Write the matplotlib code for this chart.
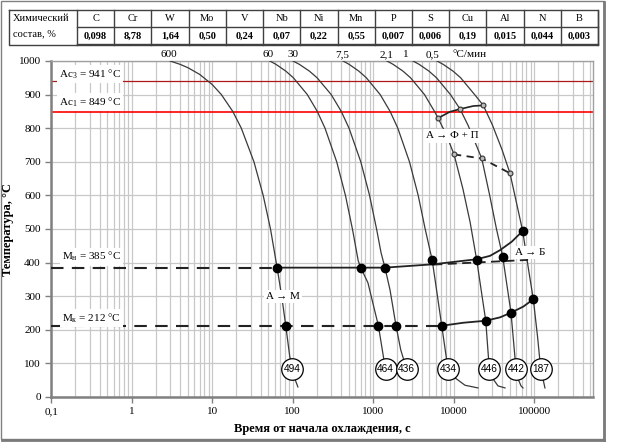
import numpy as np
import matplotlib.pyplot as plt
from matplotlib.patches import Rectangle

plt.rcParams['font.family'] = ['Liberation Serif', 'DejaVu Serif']
plt.rcParams['mathtext.fontset'] = 'custom'
plt.rcParams['mathtext.rm'] = 'Liberation Serif'

# =========================
# Данные
# =========================
elements = ['C', 'Cr', 'W', 'Mo', 'V', 'Nb', 'Ni', 'Mn', 'P', 'S', 'Cu', 'Al', 'N', 'B']
content = ['0,098', '8,78', '1,64', '0,50', '0,24', '0,07', '0,22', '0,55',
           '0,007', '0,006', '0,19', '0,015', '0,044', '0,003']

Ac3, Ac1, Ms, Mf = 941, 849, 385, 212

# кривые охлаждения: время, с / температура, °C
t600 = [3.0, 4, 5, 7, 10, 13, 18, 23, 33, 43, 53, 64, 73, 82, 92, 106, 116]
T600 = [1000, 990, 980, 960, 930, 900, 850, 800, 700, 600, 500, 385, 300, 212, 120, 55, 30]
t60 = [52, 62, 82, 102, 152, 202, 252, 352, 452, 552, 652, 700, 860, 1160, 1360, 1430]
T60 = [1000, 990, 970, 950, 900, 850, 800, 700, 600, 500, 405, 385, 340, 212, 110, 83]
t30 = [101, 121, 161, 201, 301, 401, 501, 701, 901, 1101, 1250, 1400, 1620, 1920, 2200, 2600]
T30 = [1000, 990, 970, 950, 900, 850, 800, 700, 600, 500, 430, 385, 318, 212, 140, 83]
t75 = [422, 502, 662, 822, 1222, 1622, 2022, 2822, 3622, 4422, 5400, 6200, 7100, 8500,
       10400, 13800, 20000]
T75 = [1000, 990, 970, 950, 900, 850, 800, 700, 600, 500, 408, 310, 212, 83, 57, 35, 27]
t21 = [1483, 1769, 2340, 2912, 4340, 5769, 6400, 8000, 10100, 13000, 16000, 19300, 25000,
       27700, 30800, 35500, 43400]
T21 = [1000, 990, 970, 950, 900, 850, 830, 783, 722, 620, 520, 408, 227, 83, 54, 33, 27]
t1 = [3120, 3720, 4920, 6120, 9120, 12000, 15120, 22300, 28000, 34000, 40600, 51500,
      59400, 63000, 68600, 72600]
T1 = [1000, 990, 970, 950, 900, 857, 808, 710, 600, 500, 418, 251, 83, 54, 33, 27]
t05 = [6200, 7400, 9800, 12200, 18200, 23300, 30200, 40000, 50000, 60000, 71900, 85000,
       97500, 110000, 120500, 128500, 136000]
T05 = [1000, 990, 970, 950, 900, 868, 810, 735, 666, 580, 494, 380, 291, 180, 83, 54, 27]

rate_labels = ['600', '60', '30', '7,5', '2,1', '1', '0,5']
rate_t = [2.9, 50, 100, 410, 1450, 2550, 5400]

hardness = [494, 464, 436, 434, 446, 442, 187]
hard_t = [98, 1430, 2600, 8500, 27700, 59400, 120500]
hard_T = 83

# линия начала ферритного превращения и конца (пунктир)
fs_t = [6400, 9000, 12000, 17500, 23300]
fs_T = [830, 849, 857, 866, 868]
fs_dot_t = [6400, 12000, 23300]
fs_dot_T = [830, 857, 868]
fe_t = [10100, 22300, 50000]
fe_T = [722, 710, 666]

# Мн и бейнит
ms_dot_t = [64, 700, 1400]
bs_t = [64, 700, 1400, 5580, 19300, 28200, 37600, 52500, 71900]
bs_T = [385, 385, 385, 395, 410, 420, 437, 462, 494]
bs_dot_t = [5400, 19300, 40600, 71900]
bs_dot_T = [408, 408, 418, 494]
be_t = [5580, 84000]
be_T = [394, 408]

# Мк
mf_dot_t = [82, 1160, 1920, 7100]
mf_t = [7100, 13150, 25000, 37600, 51500, 73200, 97500]
mf_T = [212, 221, 227, 237, 251, 269, 291]
mf_dot2_t = [25000, 51500, 97500]
mf_dot2_T = [227, 251, 291]

# =========================
# Рисунок
# =========================
W, H = 623, 443
fig = plt.figure(figsize=(W / 100, H / 100), dpi=100)

bg = fig.add_axes([0, 0, 1, 1])
bg.set_xlim(0, W)
bg.set_ylim(H, 0)
bg.axis('off')

# рамка
bg.add_patch(Rectangle((1, 1), 603, 438, fill=False, ec='#808080', lw=1.0))
bg.plot([604, 604], [2, 440], color='#7a7a7a', lw=2)
bg.plot([2, 604], [440, 440], color='#7a7a7a', lw=2)

# таблица
x0, x1, xr = 9, 77, 598
y0, ym, y1 = 10, 27, 45
cw = (xr - x1) / len(elements)
tc = '#404040'
bg.plot([x0, xr, xr, x0, x0], [y0, y0, y1, y1, y0], color=tc, lw=1)
bg.plot([x1, xr], [ym, ym], color=tc, lw=1)
bg.plot([x1, xr], [y1 - 1, y1 - 1], color=tc, lw=1)
for i in range(len(elements) + 1):
    xx = x1 + i * cw
    bg.plot([xx, xx], [y0, y1], color=tc, lw=1)
for i, (el, val) in enumerate(zip(elements, content)):
    xc = x1 + (i + 0.5) * cw
    bg.text(xc, (y0 + ym) / 2, el, ha='center', va='center', fontsize=7.5)
    bg.text(xc, (ym + y1) / 2, val, ha='center', va='center', fontsize=7.5,
            fontweight='bold')
bg.text(x0 + 4, (y0 + ym) / 2, 'Химический', ha='left', va='center', fontsize=7.5)
bg.text(x0 + 4, (ym + y1) / 2 - 2, 'состав, %', ha='left', va='center', fontsize=7.5)

# основная ось
L, R, T, B = 51.2, 593, 61, 397
ax = fig.add_axes([L / W, 1 - B / H, (R - L) / W, (B - T) / H])
ax.set_xscale('log')
ax.set_xlim(0.1, 10 ** ((R - 131.7) / 80.5))
ax.set_ylim(0, 1000)

ax.set_yticks(np.arange(0, 1001, 100))
ax.set_xticks([0.1, 1, 10, 100, 1000, 10000, 100000])
ax.set_xticklabels(['0,1', '1', '10', '100', '1000', '10000', '100000'])
ax.tick_params(axis='both', labelsize=8, color='#808080', length=4, width=1)
ax.tick_params(axis='x', which='minor', length=0)
ax.grid(True, which='both', color='#c8c8c8', lw=0.9)
ax.set_axisbelow(True)
for s in ax.spines.values():
    s.set_color('#a0a0a0')
    s.set_linewidth(1)
ax.spines['left'].set_linewidth(1.8)
ax.spines['bottom'].set_linewidth(1.8)
ax.spines['left'].set_color('#808080')
ax.spines['bottom'].set_color('#808080')

ax.set_xlabel('Время от начала охлаждения, с', fontsize=9, fontweight='bold')
ax.set_ylabel('Температура, °C', fontsize=9, fontweight='bold')
ax.xaxis.set_label_coords((322 - L) / (R - L), -(423 - B) / (B - T))
ax.yaxis.set_label_coords(-(L - 14) / (R - L), 0.5)

# критические точки
ax.axhline(Ac3, color='#b01818', lw=0.9, zorder=2)
ax.axhline(Ac1, color='red', lw=1.2, zorder=2)

lbl = dict(fontsize=8, va='center', ha='left', zorder=6,
           bbox=dict(fc='white', ec='none', pad=1.5))
ax.text(0.125, 962, 'Ac$_\\mathregular{3}$ = 941 °C', **lbl)
ax.text(0.125, 877, 'Ac$_\\mathregular{1}$ = 849 °C', **lbl)
ax.text(0.137, 418, 'M$_\\mathregular{н}$ = 385 °C', **lbl)
ax.text(0.137, 236, 'M$_\\mathregular{к}$ = 212 °C', **lbl)

curve_c = '#3a3a3a'
curves = [(t600, T600), (t60, T60), (t30, T30), (t75, T75), (t21, T21), (t1, T1), (t05, T05)]
for tt, TT in curves:
    ax.plot(tt, TT, color=curve_c, lw=0.9, zorder=3)

# Мн / Мк
ax.plot([0.1, ms_dot_t[0]], [Ms, Ms], color='#222222', lw=1.5, ls=(0, (6, 4)), zorder=4)
ax.plot(bs_t, bs_T, color='#222222', lw=1.3, zorder=4)
ax.plot(be_t, be_T, color='#222222', lw=1.3, ls=(0, (5, 3)), zorder=4)
ax.plot([0.1, mf_dot_t[-1]], [Mf, Mf], color='#222222', lw=1.5, ls=(0, (6, 4)), zorder=4)
ax.plot(mf_t, mf_T, color='#222222', lw=1.3, zorder=4)

dot = dict(ls='none', marker='o', color='black', ms=6, zorder=5)
ax.plot(ms_dot_t, [Ms] * len(ms_dot_t), **dot)
ax.plot(bs_dot_t, bs_dot_T, **dot)
ax.plot(mf_dot_t, [Mf] * len(mf_dot_t), **dot)
ax.plot(mf_dot2_t, mf_dot2_T, **dot)

# ферритная область
ax.plot(fs_t, fs_T, color='#222222', lw=1.2, zorder=4)
ax.plot(fe_t, fe_T, color='#222222', lw=1.3, ls=(0, (4, 3)), zorder=4)
small = dict(ls='none', marker='o', mfc='#bbbbbb', mec='#333333', ms=3.5, mew=0.8, zorder=5)
ax.plot(fs_dot_t, fs_dot_T, **small)
ax.plot(fe_t, fe_T, **small)

# подписи областей
reg = dict(fontsize=8, ha='center', va='center', zorder=6,
           bbox=dict(fc='white', ec='none', pad=1.5))
ax.text(9530, 777, 'A → Ф + П', **reg)
ax.text(76, 298, 'A → M', **reg)
ax.text(88900, 429, 'A → Б', **reg)

# твердость
for t_h, hv in zip(hard_t, hardness):
    ax.plot([t_h], [hard_T], marker='o', ms=15.5, mfc='white', mec='black', mew=0.9, zorder=7)
    ax.text(t_h, hard_T, str(hv), ha='center', va='center', fontsize=7.3,
            family=['Liberation Sans', 'DejaVu Sans'], zorder=8)

# скорости охлаждения
for t_r, r in zip(rate_t, rate_labels):
    ax.text(t_r, 1006, r, ha='center', va='bottom', fontsize=8, clip_on=False)
ax.text(9530, 1006, '°С/мин', ha='left', va='bottom', fontsize=8, clip_on=False)

fig.savefig('out.png', dpi=100)
